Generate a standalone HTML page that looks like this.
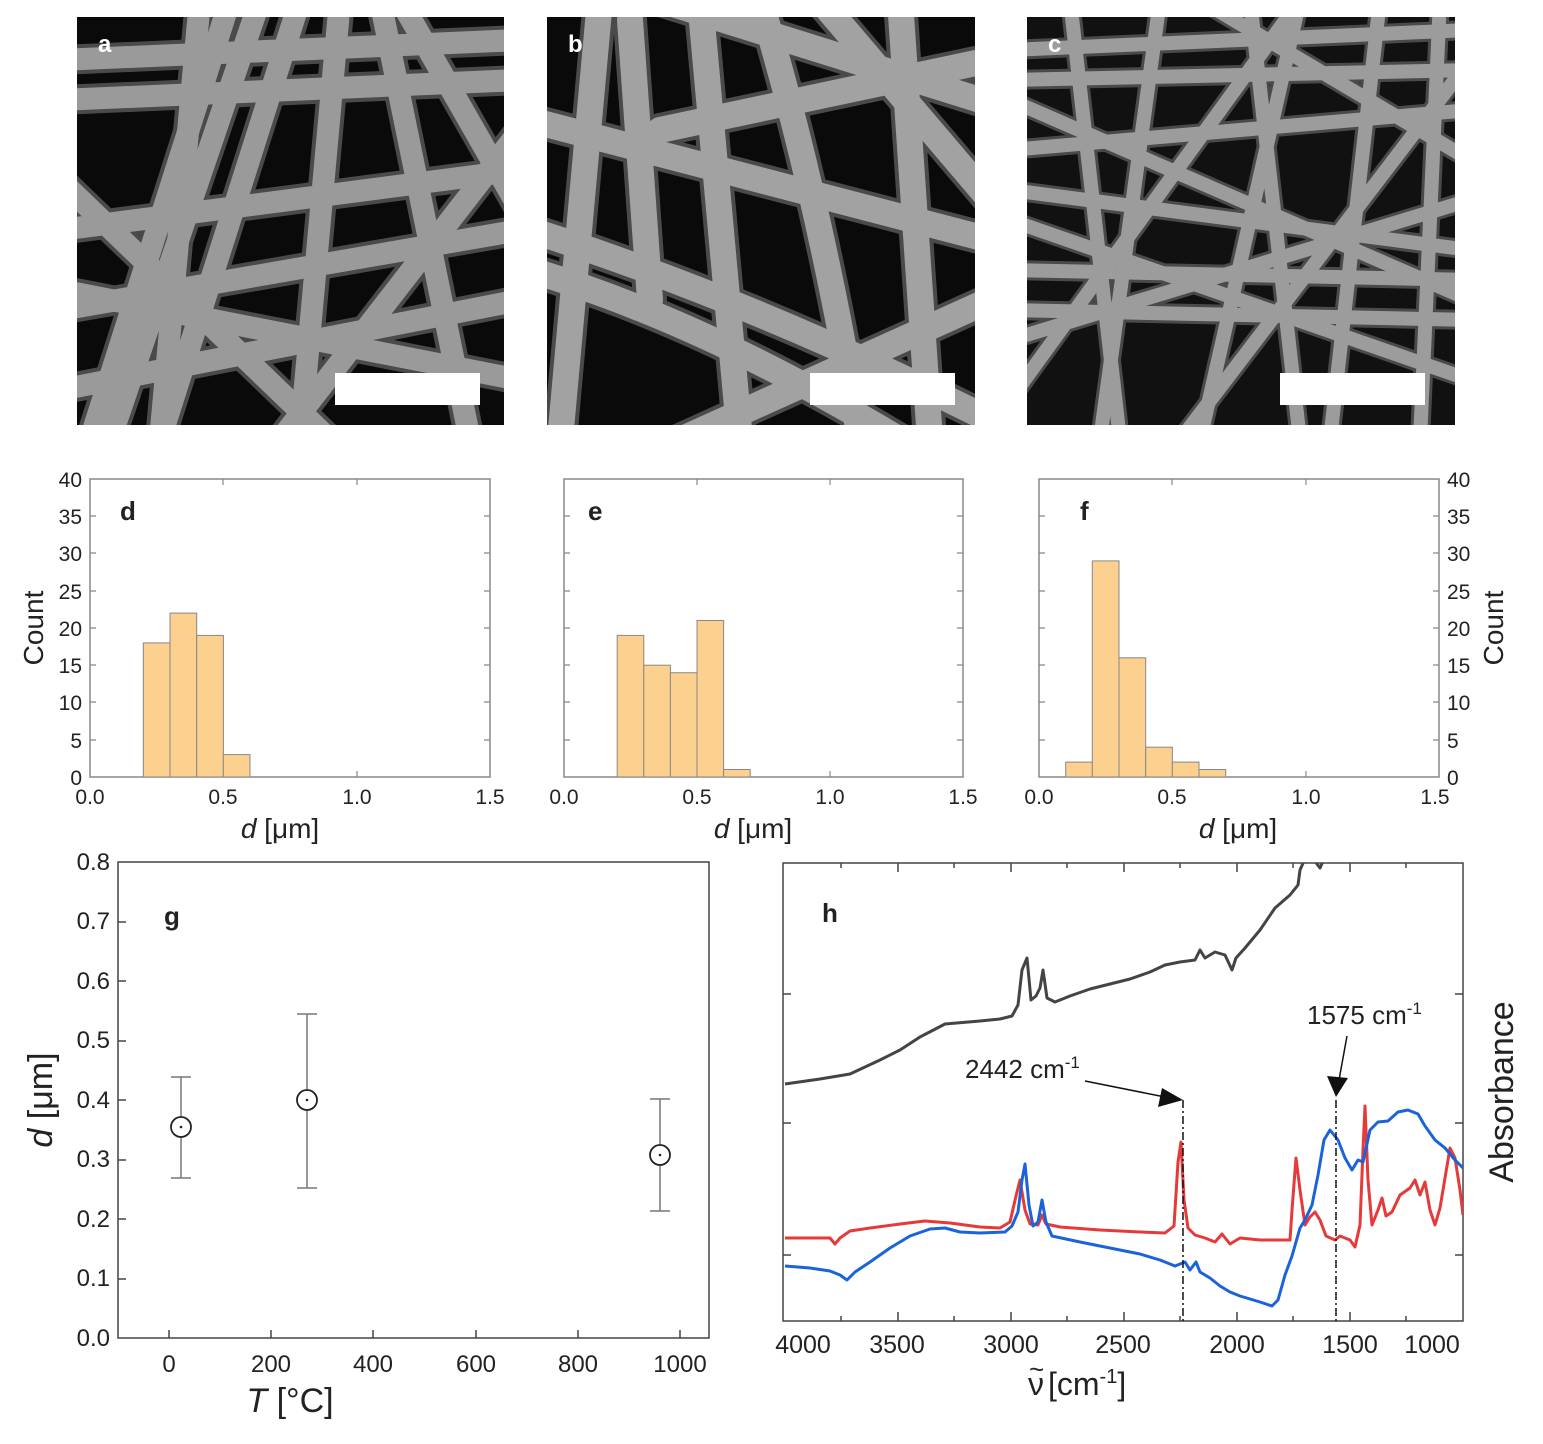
<!DOCTYPE html>
<html><head><meta charset="utf-8"><style>
body{margin:0;background:#fff;}
svg text{font-family:"Liberation Sans",sans-serif;}
</style></head><body>
<svg width="1543" height="1439" viewBox="0 0 1543 1439" xmlns="http://www.w3.org/2000/svg">
<defs>
<clipPath id="ca"><rect x="77" y="17" width="427" height="408"/></clipPath>
<clipPath id="cb"><rect x="547" y="17" width="428" height="408"/></clipPath>
<clipPath id="cc"><rect x="1027" y="17" width="428" height="408"/></clipPath>
<clipPath id="ch"><rect x="783" y="863" width="680" height="458"/></clipPath>
</defs>
<rect width="1543" height="1439" fill="#fff"/>
<!-- SEM a -->
<g clip-path="url(#ca)">
<rect x="77" y="17" width="427" height="408" fill="#0a0a0a"/>
<g stroke-linecap="round" fill="none">
<g stroke="#4a4a4a" stroke-width="30">
<path d="M60 60 L520 40"/><path d="M60 100 L520 80"/><path d="M60 310 L520 230"/><path d="M60 290 L520 380"/>
<path d="M110 440 L260 0"/><path d="M160 440 L300 0"/><path d="M300 440 L340 0"/><path d="M400 0 L520 210"/>
<path d="M470 440 L380 0"/><path d="M60 180 L330 440"/><path d="M230 0 L90 440"/><path d="M520 130 L280 440"/>
<path d="M60 230 L520 170"/><path d="M200 0 L160 440"/><path d="M60 390 L520 300"/>
</g>
<g stroke="#9a9a9a" stroke-width="22">
<path d="M60 60 L520 40"/><path d="M60 100 L520 80"/><path d="M60 310 L520 230"/><path d="M60 290 L520 380"/>
<path d="M110 440 L260 0"/><path d="M160 440 L300 0"/><path d="M300 440 L340 0"/><path d="M400 0 L520 210"/>
<path d="M470 440 L380 0"/><path d="M60 180 L330 440"/><path d="M230 0 L90 440"/><path d="M520 130 L280 440"/>
<path d="M60 230 L520 170"/><path d="M200 0 L160 440"/><path d="M60 390 L520 300"/>
</g></g>
<rect x="335" y="373" width="145" height="32" fill="#fff"/>
<text x="98" y="52" font-size="24" font-weight="bold" fill="#fff">a</text>
</g>
<!-- SEM b -->
<g clip-path="url(#cb)">
<rect x="547" y="17" width="428" height="408" fill="#0a0a0a"/>
<g stroke-linecap="round" fill="none">
<g stroke="#4a4a4a" stroke-width="34">
<path d="M530 270 Q700 320 900 440"/><path d="M530 230 Q750 300 990 420"/><path d="M630 20 L650 300"/><path d="M600 0 L560 440"/>
<path d="M700 0 L740 440"/><path d="M760 0 Q820 200 860 440"/><path d="M900 0 L930 440"/><path d="M990 60 L660 130"/>
<path d="M680 440 L990 300"/><path d="M820 0 L990 200"/><path d="M530 120 L990 240"/><path d="M660 0 L980 100"/>
</g>
<g stroke="#a2a2a2" stroke-width="26">
<path d="M530 270 Q700 320 900 440"/><path d="M530 230 Q750 300 990 420"/><path d="M630 20 L650 300"/><path d="M600 0 L560 440"/>
<path d="M700 0 L740 440"/><path d="M760 0 Q820 200 860 440"/><path d="M900 0 L930 440"/><path d="M990 60 L660 130"/>
<path d="M680 440 L990 300"/><path d="M820 0 L990 200"/><path d="M530 120 L990 240"/><path d="M660 0 L980 100"/>
</g></g>
<rect x="810" y="373" width="145" height="32" fill="#fff"/>
<text x="568" y="52" font-size="24" font-weight="bold" fill="#fff">b</text>
</g>
<!-- SEM c -->
<g clip-path="url(#cc)">
<rect x="1027" y="17" width="428" height="408" fill="#111"/>
<g stroke-linecap="round" fill="none">
<g stroke="#4a4a4a" stroke-width="20">
<path d="M1010 270 L1470 280"/><path d="M1010 50 L1470 30"/><path d="M1010 150 L1470 110"/><path d="M1010 340 L1470 200"/>
<path d="M1070 0 L1120 440"/><path d="M1160 0 L1100 440"/><path d="M1250 0 L1300 440"/><path d="M1380 0 L1330 440"/>
<path d="M1440 0 L1420 440"/><path d="M1010 220 L1470 380"/><path d="M1010 100 L1470 300"/><path d="M1200 0 L1470 160"/>
<path d="M1010 400 L1300 0"/><path d="M1180 440 L1470 60"/><path d="M1010 190 L1470 250"/><path d="M1010 310 L1470 320"/>
<path d="M1300 0 L1200 440"/><path d="M1010 80 L1470 70"/>
</g>
<g stroke="#9c9c9c" stroke-width="14">
<path d="M1010 270 L1470 280"/><path d="M1010 50 L1470 30"/><path d="M1010 150 L1470 110"/><path d="M1010 340 L1470 200"/>
<path d="M1070 0 L1120 440"/><path d="M1160 0 L1100 440"/><path d="M1250 0 L1300 440"/><path d="M1380 0 L1330 440"/>
<path d="M1440 0 L1420 440"/><path d="M1010 220 L1470 380"/><path d="M1010 100 L1470 300"/><path d="M1200 0 L1470 160"/>
<path d="M1010 400 L1300 0"/><path d="M1180 440 L1470 60"/><path d="M1010 190 L1470 250"/><path d="M1010 310 L1470 320"/>
<path d="M1300 0 L1200 440"/><path d="M1010 80 L1470 70"/>
</g></g>
<rect x="1280" y="373" width="145" height="32" fill="#fff"/>
<text x="1048" y="52" font-size="24" font-weight="bold" fill="#fff">c</text>
</g>

<!-- Histogram d -->
<g font-size="21" fill="#222">
<rect x="90" y="479" width="400" height="298" fill="none" stroke="#888" stroke-width="1.5"/>
<g stroke="#888" stroke-width="1.2">
<path d="M90 740h6M90 702h6M90 665h6M90 628h6M90 591h6M90 553h6M90 516h6M490 740h-6M490 702h-6M490 665h-6M490 628h-6M490 591h-6M490 553h-6M490 516h-6M223 777v-6M357 777v-6M223 479v6M357 479v6"/>
</g>
<g fill="#fcd08f" stroke="#888" stroke-width="1">
<rect x="143.3" y="642.9" width="26.7" height="134.1"/><rect x="170" y="613.1" width="26.7" height="163.9"/>
<rect x="196.7" y="635.4" width="26.7" height="141.6"/><rect x="223.3" y="754.6" width="26.7" height="22.4"/>
</g>
<g text-anchor="end"><text x="82" y="785">0</text><text x="82" y="748">5</text><text x="82" y="710">10</text><text x="82" y="673">15</text><text x="82" y="636">20</text><text x="82" y="599">25</text><text x="82" y="561">30</text><text x="82" y="524">35</text><text x="82" y="487">40</text></g>
<g text-anchor="middle"><text x="90" y="804">0.0</text><text x="223" y="804">0.5</text><text x="357" y="804">1.0</text><text x="490" y="804">1.5</text></g>
<text x="280" y="838" font-size="28" text-anchor="middle"><tspan font-style="italic">d</tspan> [μm]</text>
<text transform="translate(43,628) rotate(-90)" font-size="28" text-anchor="middle">Count</text>
<text x="120" y="520" font-size="26" font-weight="bold">d</text>
</g>
<!-- Histogram e -->
<g font-size="21" fill="#222">
<rect x="564" y="479" width="399" height="298" fill="none" stroke="#888" stroke-width="1.5"/>
<g stroke="#888" stroke-width="1.2">
<path d="M564 740h6M564 702h6M564 665h6M564 628h6M564 591h6M564 553h6M564 516h6M963 740h-6M963 702h-6M963 665h-6M963 628h-6M963 591h-6M963 553h-6M963 516h-6M697 777v-6M830 777v-6M697 479v6M830 479v6"/>
</g>
<g fill="#fcd08f" stroke="#888" stroke-width="1">
<rect x="617.2" y="635.4" width="26.6" height="141.6"/><rect x="643.8" y="665.2" width="26.6" height="111.8"/>
<rect x="670.4" y="672.7" width="26.6" height="104.3"/><rect x="697" y="620.5" width="26.6" height="156.5"/>
<rect x="723.6" y="769.5" width="26.6" height="7.5"/>
</g>
<g text-anchor="middle"><text x="564" y="804">0.0</text><text x="697" y="804">0.5</text><text x="830" y="804">1.0</text><text x="963" y="804">1.5</text></g>
<text x="753" y="838" font-size="28" text-anchor="middle"><tspan font-style="italic">d</tspan> [μm]</text>
<text x="588" y="520" font-size="26" font-weight="bold">e</text>
</g>
<!-- Histogram f -->
<g font-size="21" fill="#222">
<rect x="1039" y="479" width="400" height="298" fill="none" stroke="#888" stroke-width="1.5"/>
<g stroke="#888" stroke-width="1.2">
<path d="M1039 740h6M1039 702h6M1039 665h6M1039 628h6M1039 591h6M1039 553h6M1039 516h6M1439 740h-6M1439 702h-6M1439 665h-6M1439 628h-6M1439 591h-6M1439 553h-6M1439 516h-6M1172 777v-6M1306 777v-6M1172 479v6M1306 479v6"/>
</g>
<g fill="#fcd08f" stroke="#888" stroke-width="1">
<rect x="1065.7" y="762.1" width="26.7" height="14.9"/><rect x="1092.3" y="560.9" width="26.7" height="216.1"/>
<rect x="1119" y="657.8" width="26.7" height="119.2"/><rect x="1145.7" y="747.2" width="26.7" height="29.8"/>
<rect x="1172.3" y="762.1" width="26.7" height="14.9"/><rect x="1199" y="769.5" width="26.7" height="7.5"/>
</g>
<g text-anchor="start"><text x="1447" y="785">0</text><text x="1447" y="748">5</text><text x="1447" y="710">10</text><text x="1447" y="673">15</text><text x="1447" y="636">20</text><text x="1447" y="599">25</text><text x="1447" y="561">30</text><text x="1447" y="524">35</text><text x="1447" y="487">40</text></g>
<g text-anchor="middle"><text x="1039" y="804">0.0</text><text x="1172" y="804">0.5</text><text x="1306" y="804">1.0</text><text x="1435" y="804">1.5</text></g>
<text x="1238" y="838" font-size="28" text-anchor="middle"><tspan font-style="italic">d</tspan> [μm]</text>
<text transform="translate(1503,628) rotate(-90)" font-size="28" text-anchor="middle">Count</text>
<text x="1080" y="520" font-size="26" font-weight="bold">f</text>
</g>

<!-- g plot -->
<g font-size="24" fill="#222">
<rect x="118" y="862" width="591" height="476" fill="none" stroke="#444" stroke-width="1.5"/>
<g text-anchor="end">
<text x="110" y="1346">0.0</text><text x="110" y="1286">0.1</text><text x="110" y="1227">0.2</text><text x="110" y="1167">0.3</text><text x="110" y="1108">0.4</text><text x="110" y="1048">0.5</text><text x="110" y="989">0.6</text><text x="110" y="929">0.7</text><text x="110" y="870">0.8</text>
</g>
<g text-anchor="middle">
<text x="169" y="1372">0</text><text x="271" y="1372">200</text><text x="373" y="1372">400</text><text x="476" y="1372">600</text><text x="578" y="1372">800</text><text x="680" y="1372">1000</text>
</g>
<g stroke="#444" stroke-width="1.5">
<line x1="118" y1="1279" x2="126" y2="1279"/><line x1="118" y1="1219" x2="126" y2="1219"/><line x1="118" y1="1160" x2="126" y2="1160"/><line x1="118" y1="1100" x2="126" y2="1100"/><line x1="118" y1="1041" x2="126" y2="1041"/><line x1="118" y1="981" x2="126" y2="981"/><line x1="118" y1="922" x2="126" y2="922"/>
<line x1="169" y1="1338" x2="169" y2="1330"/><line x1="271" y1="1338" x2="271" y2="1330"/><line x1="373" y1="1338" x2="373" y2="1330"/><line x1="476" y1="1338" x2="476" y2="1330"/><line x1="578" y1="1338" x2="578" y2="1330"/><line x1="680" y1="1338" x2="680" y2="1330"/>
</g>
<text x="290" y="1412" font-size="34" text-anchor="middle"><tspan font-style="italic">T</tspan> [°C]</text>
<text transform="translate(52,1100) rotate(-90)" font-size="34" text-anchor="middle"><tspan font-style="italic">d</tspan> [μm]</text>
<text x="164" y="925" font-size="26" font-weight="bold">g</text>
<g stroke="#777" stroke-width="1.5" fill="none">
<line x1="181" y1="1077" x2="181" y2="1178"/><line x1="171" y1="1077" x2="191" y2="1077"/><line x1="171" y1="1178" x2="191" y2="1178"/>
<line x1="307" y1="1014" x2="307" y2="1188"/><line x1="297" y1="1014" x2="317" y2="1014"/><line x1="297" y1="1188" x2="317" y2="1188"/>
<line x1="660" y1="1099" x2="660" y2="1211"/><line x1="650" y1="1099" x2="670" y2="1099"/><line x1="650" y1="1211" x2="670" y2="1211"/>
</g>
<g stroke="#222" stroke-width="1.8" fill="#fff">
<circle cx="181" cy="1127" r="10"/><circle cx="307" cy="1100" r="10"/><circle cx="660" cy="1155" r="10"/>
</g>
<g fill="#222"><circle cx="181" cy="1127" r="1.3"/><circle cx="307" cy="1100" r="1.3"/><circle cx="660" cy="1155" r="1.3"/></g>
</g>

<!-- h plot -->
<g font-size="24" fill="#222">
<rect x="783" y="863" width="680" height="458" fill="none" stroke="#444" stroke-width="1.5"/>
<g stroke="#444" stroke-width="1.5">
<line x1="783" y1="994" x2="791" y2="994"/><line x1="783" y1="1123" x2="791" y2="1123"/><line x1="783" y1="1255" x2="791" y2="1255"/>
<line x1="1463" y1="994" x2="1455" y2="994"/><line x1="1463" y1="1123" x2="1455" y2="1123"/><line x1="1463" y1="1255" x2="1455" y2="1255"/>
<path d="M898 1321v-9M1011 1321v-9M1124 1321v-9M1237 1321v-9M1350 1321v-9M898 863v9M1011 863v9M1124 863v9M1237 863v9M1350 863v9"/>
<path d="M841 1321v-5M954 1321v-5M1067 1321v-5M1180 1321v-5M1293 1321v-5M1406 1321v-5M841 863v5M954 863v5M1067 863v5M1180 863v5M1293 863v5M1406 863v5"/>
</g>
<g text-anchor="middle" font-size="25">
<text x="803" y="1353">4000</text><text x="897" y="1353">3500</text><text x="1011" y="1353">3000</text><text x="1123" y="1353">2500</text><text x="1237" y="1353">2000</text><text x="1350" y="1353">1500</text><text x="1432" y="1353">1000</text>
</g>
<text x="1028" y="1395" font-size="32">ν</text>
<text x="1029" y="1378" font-size="26">~</text>
<text x="1048" y="1395" font-size="32"> [cm<tspan font-size="20" dy="-12">-1</tspan><tspan dy="12">]</tspan></text>
<text transform="translate(1513,1092) rotate(-90)" font-size="34" text-anchor="middle">Absorbance</text>
<text x="822" y="922" font-size="26" font-weight="bold">h</text>
<g clip-path="url(#ch)" fill="none" stroke-width="3" stroke-linejoin="round">
<polyline stroke="#444" points="785,1084 820,1079 850,1074 880,1060 900,1050 920,1037 945,1024 980,1021 1000,1019 1012,1016 1018,1005 1022,970 1027,958 1031,1000 1036,996 1040,988 1043,970 1047,998 1055,1002 1070,996 1090,989 1110,984 1130,979 1150,972 1165,965 1180,962 1195,960 1200,950 1205,958 1215,952 1225,955 1232,970 1236,958 1245,948 1260,930 1275,908 1290,895 1298,885 1300,870 1308,852 1320,868 1330,845"/>
<polyline stroke="#e63939" points="785,1238 810,1238 830,1238 835,1244 840,1238 850,1231 870,1228 900,1224 925,1221 950,1223 980,1227 1000,1228 1010,1222 1016,1196 1020,1180 1025,1210 1030,1224 1038,1225 1042,1215 1046,1224 1060,1227 1100,1230 1140,1232 1165,1233 1174,1226 1178,1162 1181,1142 1184,1200 1188,1228 1195,1235 1205,1238 1215,1242 1222,1234 1230,1244 1240,1238 1260,1240 1290,1240 1292,1210 1296,1158 1300,1190 1305,1225 1310,1217 1315,1212 1320,1220 1326,1236 1335,1240 1340,1236 1350,1240 1355,1247 1360,1225 1363,1150 1365,1106 1368,1180 1372,1225 1378,1210 1382,1198 1386,1216 1392,1212 1400,1195 1410,1188 1415,1180 1420,1195 1425,1182 1430,1210 1435,1225 1440,1208 1446,1172 1450,1148 1455,1158 1460,1190 1463,1215"/>
<polyline stroke="#1a63d8" points="785,1266 810,1268 830,1271 840,1275 847,1280 855,1272 870,1262 890,1248 910,1236 930,1229 945,1228 960,1232 980,1233 1005,1232 1012,1226 1018,1212 1022,1180 1025,1164 1029,1205 1033,1226 1038,1222 1042,1200 1046,1222 1052,1236 1080,1242 1110,1248 1140,1254 1160,1260 1175,1266 1185,1262 1190,1270 1196,1262 1200,1272 1210,1278 1220,1286 1230,1292 1240,1296 1260,1302 1272,1306 1278,1300 1285,1275 1292,1256 1300,1228 1305,1220 1312,1205 1318,1175 1324,1140 1330,1130 1338,1140 1345,1158 1352,1170 1358,1160 1363,1162 1370,1130 1378,1122 1388,1121 1398,1112 1408,1110 1418,1114 1425,1126 1435,1140 1445,1148 1455,1160 1463,1168"/>
</g>
<g stroke="#111" stroke-width="1.5" stroke-dasharray="8,3,2,3">
<line x1="1183" y1="1100" x2="1183" y2="1321"/><line x1="1336" y1="1100" x2="1336" y2="1321"/>
</g>
<line x1="1085" y1="1081" x2="1165" y2="1097" stroke="#111" stroke-width="1.5"/>
<polygon points="1183,1100 1158,1107 1162,1088" fill="#111"/>
<line x1="1347" y1="1036" x2="1339" y2="1080" stroke="#111" stroke-width="1.5"/>
<polygon points="1336,1097 1327,1076 1348,1078" fill="#111"/>
<text x="965" y="1078" font-size="26">2442 cm<tspan font-size="17" dy="-10">-1</tspan></text>
<text x="1307" y="1024" font-size="26">1575 cm<tspan font-size="17" dy="-10">-1</tspan></text>
</g>
</svg>
</body></html>
